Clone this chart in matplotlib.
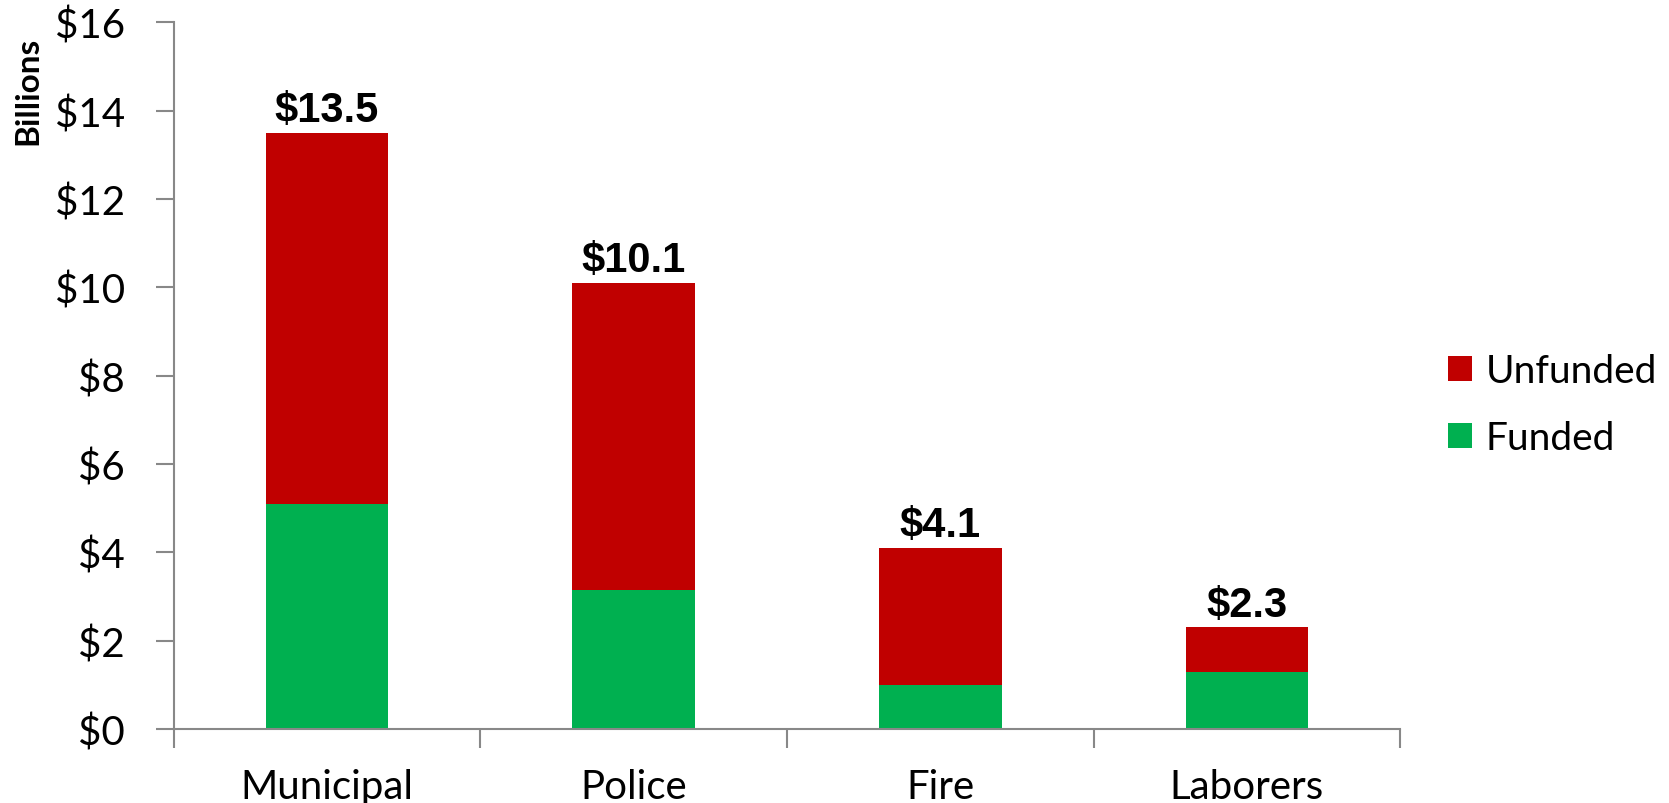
import numpy as np
import matplotlib.pyplot as plt
from matplotlib.ticker import FuncFormatter, FixedLocator

# pension funds, billions of dollars
funds = ['Municipal', 'Police', 'Fire', 'Laborers']
funded = [5.1, 3.15, 1.0, 1.3]
unfunded = [8.4, 6.95, 3.1, 1.0]
totals = [f + u for f, u in zip(funded, unfunded)]

RED = '#C00000'
GREEN = '#00B050'
AXIS_GRAY = '#888888'

plt.rcParams['font.family'] = ['Lato', 'DejaVu Sans']

fig = plt.figure(figsize=(16.69, 8.04), dpi=100)
ax = fig.add_axes([0.104, 0.092, 0.735, 0.879])

x = np.arange(len(funds))
bw = 0.4
b_fund = ax.bar(x, funded, bw, color=GREEN, label='Funded')
b_unf = ax.bar(x, unfunded, bw, bottom=funded, color=RED, label='Unfunded')

for xi, t in zip(x, totals):
    ax.text(xi, t + 0.06, f'${t:.1f}', ha='center', va='bottom',
            fontsize=30, fontweight='bold', family='Liberation Sans')

ax.set_xlim(-0.5, len(funds) - 0.5)
ax.set_ylim(0, 16)
ax.set_yticks(range(0, 17, 2))
ax.yaxis.set_major_formatter(FuncFormatter(lambda v, p: f'${v:.0f}'))
ax.set_xticks(x)
ax.set_xticklabels(funds)
ax.xaxis.set_minor_locator(FixedLocator(np.arange(-0.5, len(funds), 1.0)))

ax.tick_params(axis='x', which='major', length=0, labelsize=29, pad=28)
ax.tick_params(axis='x', which='minor', length=14, width=1.5, color=AXIS_GRAY)
ax.tick_params(axis='y', length=13, width=1.5, color=AXIS_GRAY, labelsize=29, pad=22)

for side in ['top', 'right']:
    ax.spines[side].set_visible(False)
for side in ['left', 'bottom']:
    ax.spines[side].set_color(AXIS_GRAY)
    ax.spines[side].set_linewidth(1.5)

ax.set_ylabel('Billions', fontsize=24, fontweight='bold')
ax.yaxis.set_label_coords(-0.107, 0.904)

leg = ax.legend(handles=[b_unf, b_fund], loc='center left',
                bbox_to_anchor=(1.039, 0.459), frameon=False, fontsize=28,
                borderaxespad=0, borderpad=0, handlelength=0.62,
                handleheight=0.62, handletextpad=0.34, labelspacing=0.8)

fig.savefig('out.png', dpi=100)
